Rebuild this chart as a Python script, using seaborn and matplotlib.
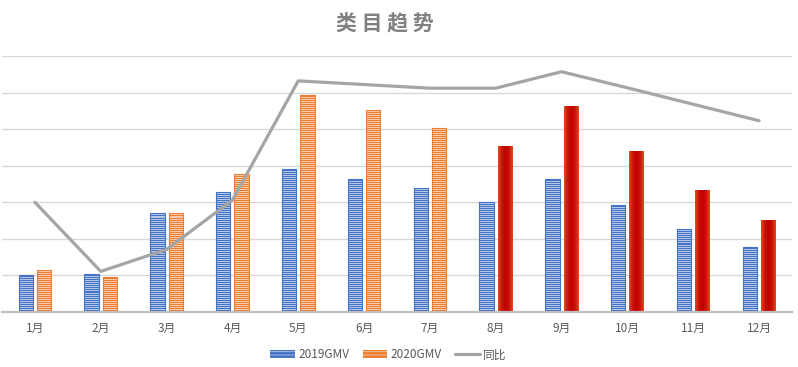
import numpy as np
import pandas as pd
import matplotlib
matplotlib.use("Agg")
import matplotlib.pyplot as plt
import matplotlib.patches as mpatches
from matplotlib.lines import Line2D
from matplotlib.colors import LinearSegmentedColormap, to_rgb
import seaborn as sns

# ---------------------------------------------------------------
# data (arbitrary units; y axis is hidden)
# ---------------------------------------------------------------
months = ["1月", "2月", "3月", "4月", "5月", "6月",
          "7月", "8月", "9月", "10月", "11月", "12月"]
gmv_2019 = [1.00, 1.04, 2.72, 3.28, 3.91, 3.63, 3.39, 3.00, 3.63, 2.92, 2.28, 1.77]
gmv_2020 = [1.14, 0.95, 2.72, 3.77, 5.93, 5.51, 5.03, 4.54, 5.63, 4.39, 3.33, 2.51]
yoy = [3.00, 1.11, 1.71, 3.06, 6.32, 6.22, 6.12, 6.12, 6.57, 6.13, 5.68, 5.23]
highlight_months = ["8月", "9月", "10月", "11月", "12月"]

BLUE = "#4472c4"
ORANGE = "#ed7d31"
GREY = "#a5a5a5"
TEXT = "#595959"

sns.set_theme(style="white")
plt.rcParams["font.family"] = ["Noto Sans CJK SC", "DejaVu Sans"]
plt.rcParams["hatch.linewidth"] = 0.6

df = pd.DataFrame({
    "month": months * 2,
    "series": ["2019GMV"] * 12 + ["2020GMV"] * 12,
    "value": gmv_2019 + gmv_2020,
})

W, H = 798, 367
AX_BOTTOM, AX_TOP = 55, 311          # pixel rows (from bottom), kept integer for stripes
fig = plt.figure(figsize=(W / 100, H / 100), dpi=100)
ax = fig.add_axes([2 / W, AX_BOTTOM / H, 790 / W, (AX_TOP - AX_BOTTOM) / H])

sns.barplot(data=df, x="month", y="value", hue="series", order=months,
            palette={"2019GMV": BLUE, "2020GMV": ORANGE},
            width=0.556, gap=0.22, legend=False, ax=ax, zorder=2)

YMAX = 7
n_rows = AX_TOP - AX_BOTTOM


def stripes(dark, light):
    # one image row per screen pixel row: dark / light alternating
    rows = np.array([to_rgb(dark) if i % 2 == 0 else to_rgb(light) for i in range(n_rows)])
    return rows.reshape(n_rows, 1, 3)


def fill_bar(bar, img, edge=None, interp="nearest"):
    x0, w = bar.get_x(), bar.get_width()
    im = ax.imshow(img, aspect="auto", interpolation=interp,
                   extent=[x0, x0 + w, 0, YMAX], zorder=2.2)
    im.set_clip_path(bar)
    bar.set_facecolor("none")
    bar.set_zorder(2.6)
    if edge is None:
        bar.set_edgecolor("none")
        bar.set_linewidth(0)
    else:
        bar.set_edgecolor(edge)
        bar.set_linewidth(0.8)


blue_img = stripes(BLUE, "#b4c7e7")
orange_img = stripes(ORANGE, "#f8cbad")
red_cmap = LinearSegmentedColormap.from_list(
    "redbar", ["#de4d1c", "#c81408", "#c00000", "#c81408", "#de4d1c"])
red_img = red_cmap(np.linspace(0, 1, 64))[:, :3].reshape(1, -1, 3)

for bar in ax.containers[0]:
    fill_bar(bar, blue_img, edge=BLUE)

for m, bar in zip(months, ax.containers[1]):
    if m in highlight_months:
        fill_bar(bar, red_img, interp="bilinear")
    else:
        fill_bar(bar, orange_img, edge=ORANGE)

sns.lineplot(x=np.arange(len(months)), y=yoy, color=GREY, linewidth=2.3,
             sort=False, ax=ax, zorder=3)

ax.set_xlim(-0.5, 11.5)
ax.set_ylim(0, YMAX)
ax.set_yticks(np.arange(1, YMAX + 1))
ax.yaxis.grid(True, color="#d9d9d9", linewidth=1.0)
ax.set_axisbelow(True)
ax.tick_params(axis="y", left=False, labelleft=False)
ax.tick_params(axis="x", length=0, pad=7, labelsize=8.5, labelcolor=TEXT)
ax.set_xlabel("")
ax.set_ylabel("")
for side in ["left", "right", "top"]:
    ax.spines[side].set_visible(False)
ax.spines["bottom"].set_color("#bfbfbf")
ax.spines["bottom"].set_linewidth(1.6)
ax.spines["bottom"].set_zorder(4)

fig.text(385 / W, 1 - 24 / H, "类 目 趋 势", ha="center", va="center",
         fontsize=15, fontweight="bold", color="#808080")

handles = [
    mpatches.Patch(facecolor=BLUE, edgecolor="#b4c7e7", hatch="-----", linewidth=0),
    mpatches.Patch(facecolor=ORANGE, edgecolor="#f8cbad", hatch="-----", linewidth=0),
    Line2D([0], [0], color=GREY, linewidth=2.3),
]
fig.legend(handles, ["2019GMV", "2020GMV", "同比"], loc="center",
           bbox_to_anchor=(0.487, 0.033), ncol=3, frameon=False,
           fontsize=8.5, labelcolor=TEXT, handlelength=2.1, handleheight=0.6,
           handletextpad=0.3, columnspacing=1.1)

fig.savefig("out.png", dpi=100)
